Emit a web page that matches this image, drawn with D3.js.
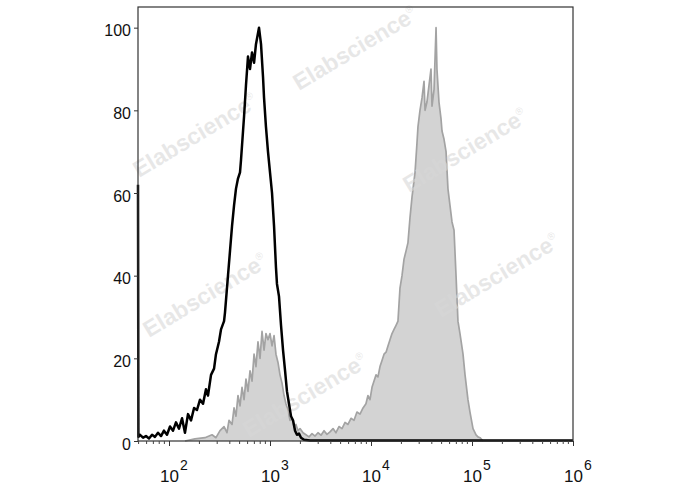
<!DOCTYPE html>
<html><head><meta charset="utf-8">
<script src="https://cdn.jsdelivr.net/npm/d3@7"></script>
<style>body{margin:0;background:#fff}svg{display:block}</style>
</head><body><svg id="c" width="688" height="490"></svg>
<script>
// ---- data (x as log10 intensity, y as % of max count) ----
const blackLog = [1.693,1.697,1.713,1.743,1.772,1.802,1.832,1.861,1.891,1.921,1.950,1.980,2.010,2.040,2.069,2.099,2.129,2.158,2.188,2.218,2.248,2.277,2.307,2.337,2.366,2.386,2.416,2.446,2.465,2.495,2.515,2.545,2.554,2.584,2.604,2.624,2.644,2.663,2.683,2.703,2.713,2.733,2.743,2.762,2.782,2.802,2.822,2.842,2.861,2.891,2.911,2.931,2.941,2.960,2.980,3.000,3.020,3.040,3.059,3.069,3.089,3.109,3.129,3.149,3.168,3.188,3.208,3.228,3.248,3.267,3.287,3.307,3.337,3.396,6.000];
const blackCount = [62,1.0,1.5,0.8,1.2,0.6,1.5,1.0,2.0,1.2,2.5,1.5,3.5,2.5,4.5,3.0,5.5,2.0,6.5,5.0,8.0,7.5,10.0,9.0,12.5,11.0,16.0,17.5,21.0,24.0,27.0,29.0,31.0,40.0,46.0,52.0,57.0,61.0,63.5,65.0,68.0,75.0,78.5,86.0,93.0,90.0,94.0,91.5,96.0,100.0,96.0,88.0,83.0,76.0,70.0,65.0,60.0,52.0,42.0,38.0,35.0,28.0,22.0,17.0,12.0,9.0,6.0,5.0,2.5,1.5,1.8,0.8,0.3,0.1,0.1];

const grayLog = [2.158,2.257,2.356,2.426,2.465,2.505,2.545,2.574,2.594,2.624,2.644,2.663,2.683,2.703,2.723,2.743,2.762,2.782,2.802,2.822,2.842,2.861,2.881,2.901,2.921,2.941,2.960,2.980,3.000,3.020,3.040,3.059,3.079,3.099,3.119,3.139,3.158,3.178,3.198,3.218,3.238,3.257,3.277,3.297,3.327,3.356,3.386,3.416,3.446,3.475,3.505,3.535,3.564,3.594,3.624,3.653,3.683,3.713,3.743,3.772,3.802,3.832,3.861,3.891,3.921,3.950,3.970,3.990,4.010,4.030,4.050,4.069,4.089,4.109,4.129,4.149,4.168,4.188,4.208,4.228,4.248,4.267,4.287,4.307,4.327,4.347,4.366,4.386,4.406,4.426,4.436,4.455,4.465,4.485,4.505,4.525,4.535,4.554,4.574,4.594,4.604,4.624,4.644,4.653,4.673,4.693,4.703,4.723,4.743,4.762,4.782,4.802,4.822,4.842,4.861,4.881,4.911,4.931,4.960,4.980,5.010,5.040,5.059,5.079,5.109];
const grayCount = [0,0.5,0.8,1.5,0.8,2.5,3.5,2.0,5.0,4.0,8.0,6.0,11.0,8.5,13.0,10.0,15.0,12.0,17.0,14.5,21.0,18.0,24.0,20.0,26.5,22.0,26.0,24.5,26.0,23.0,25.5,21.0,19.0,16.0,14.0,11.0,9.0,7.5,5.0,5.5,3.5,4.0,2.5,3.0,2.0,1.5,1.0,1.8,1.2,2.0,1.4,2.5,1.6,2.2,3.0,2.0,3.5,3.0,4.5,4.0,5.5,5.0,7.0,6.5,8.0,9.0,11.0,10.0,13.0,14.5,16.0,15.5,18.0,19.5,21.0,21.5,23.0,24.5,26.0,27.0,28.0,29.0,37.0,40.0,44.0,46.0,48.0,54.0,59.0,63.0,65.0,72.0,76.0,80.0,83.0,87.0,80.0,82.0,86.0,90.0,81.0,85.0,100.0,90.0,82.0,78.0,75.0,73.0,70.0,61.0,57.0,53.0,51.0,40.0,29.0,26.0,21.0,16.0,10.0,7.0,3.0,1.5,1.0,0.8,0];

const yTicks = [0,20,40,60,80,100];
const xTickExp = [2,3,4,5,6];
const watermarkText = "Elabscience";

// ---- layout ----
const L = 138, R = 573, T = 7, B = 441;
const svg = d3.select("#c");
const x = d3.scaleLog().domain([Math.pow(10,1.693), 1e6]).range([L, R]);
const y = d3.scaleLinear().domain([0, 105]).range([B, T]);

const black = blackLog.map((v,i)=>({x:Math.pow(10,v), y:blackCount[i]}));
const gray = grayLog.map((v,i)=>({x:Math.pow(10,v), y:grayCount[i]}));

// gray filled histogram
svg.append("path").datum(gray)
  .attr("d", d3.area().x(d=>x(d.x)).y0(y(0)).y1(d=>y(d.y)))
  .attr("fill", "#d3d3d3");
svg.append("path").datum(gray)
  .attr("d", d3.line().x(d=>x(d.x)).y(d=>y(d.y)))
  .attr("fill", "none").attr("stroke", "#a3a3a3").attr("stroke-width", 1.7)
  .attr("stroke-linejoin","round");

// watermarks
const wm = [[195,135],[355,48],[465,150],[205,295],[305,395],[497,275]];
wm.forEach(([cx,cy])=>{
  const t = svg.append("text")
    .attr("transform", `translate(${cx},${cy}) rotate(-31)`)
    .attr("text-anchor","middle").attr("dy","0.35em")
    .attr("font-family","Liberation Sans, Arial, sans-serif")
    .attr("font-weight","bold").attr("font-size",23)
    .attr("fill","#d8d8d8").attr("fill-opacity",0.6);
  t.append("tspan").text(watermarkText);
  t.append("tspan").attr("font-size",10).attr("dy","-1em").attr("font-weight","normal").text("®");
});

// black open histogram
svg.append("path").datum(black)
  .attr("d", d3.line().x(d=>x(d.x)).y(d=>y(d.y)))
  .attr("fill", "none").attr("stroke", "#000").attr("stroke-width", 2.5)
  .attr("stroke-linejoin","round");

// frame
svg.append("rect").attr("x",L).attr("y",T).attr("width",R-L).attr("height",B-T)
  .attr("fill","none").attr("stroke","#333").attr("stroke-width",1.2);

// y axis
const ya = svg.append("g").attr("transform",`translate(${L},0)`)
  .call(d3.axisLeft(y).tickValues(yTicks).tickSize(4).tickPadding(3).tickFormat(d3.format("d")));
ya.select(".domain").remove();
ya.selectAll("line").attr("stroke","#333");
ya.selectAll("text").attr("font-family","Liberation Sans, Arial, sans-serif")
  .attr("font-size",16).attr("fill","#111").attr("dy","0.5em");

// x axis: minor ticks
const minor = [];
for (let e=1;e<6;e++) for (let m=2;m<10;m++){const v=m*Math.pow(10,e); if (v>=x.domain()[0] && v<=1e6) minor.push(v);}
svg.append("g").selectAll("line").data(minor).join("line")
  .attr("x1",d=>x(d)).attr("x2",d=>x(d)).attr("y1",B).attr("y2",B+3)
  .attr("stroke","#444").attr("stroke-width",1);
const xa = svg.append("g").attr("transform",`translate(0,${B})`)
  .call(d3.axisBottom(x).tickValues(xTickExp.map(e=>Math.pow(10,e))).tickSize(5).tickFormat(""));
xa.select(".domain").remove();
xa.selectAll("line").attr("stroke","#333");

// x labels 10^n
xTickExp.forEach(e=>{
  const t = svg.append("text").attr("x", x(Math.pow(10,e)) - 9).attr("y", 482)
    .attr("font-family","Liberation Sans, Arial, sans-serif").attr("font-size",17).attr("fill","#111");
  t.append("tspan").text("10");
  t.append("tspan").attr("font-size",14).attr("dy",-12).attr("dx",1).text(String(e));
});
</script></body></html>
